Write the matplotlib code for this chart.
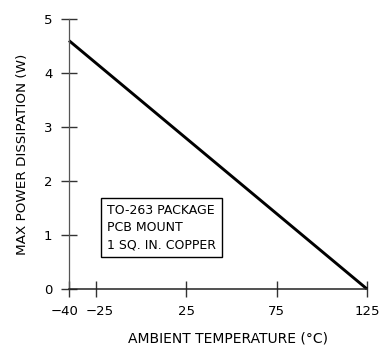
import matplotlib
matplotlib.use("Agg")
import matplotlib.pyplot as plt
from matplotlib.transforms import ScaledTranslation

# Data
temperature = [-40, 125]
max_power = [4.6, 0.0]
x_ticks = [-40, -25, 25, 75, 125]
y_ticks = [0, 1, 2, 3, 4, 5]
note_lines = ["TO-263 PACKAGE", "PCB MOUNT", "1 SQ. IN. COPPER"]

W, H = 379, 350
fig = plt.figure(figsize=(W / 100, H / 100), dpi=100)
plt.rcParams['font.family'] = ['DejaVu Sans']
ax = fig.add_axes([69 / W, 1 - 289 / H, (367 - 69) / W, (289 - 19) / H])

ax.plot(temperature, max_power, color='black', lw=2.1, solid_capstyle='butt', clip_on=False)

ax.set_xlim(-40, 125)
ax.set_ylim(0, 5)
ax.set_xticks(x_ticks)
ax.set_yticks(y_ticks)
ax.set_xticklabels([str(t).replace('-', '\u2212') for t in x_ticks])
ax.set_yticklabels([str(t) for t in y_ticks])

for s in ['top', 'right']:
    ax.spines[s].set_visible(False)
ax.spines['left'].set_color('#555555')
ax.spines['left'].set_linewidth(0.9)
ax.spines['bottom'].set_color('#222222')
ax.spines['bottom'].set_linewidth(1.1)

ax.tick_params(axis='both', direction='inout', width=1.0, colors='#333333',
               labelcolor='black', labelsize=9.5)
ax.tick_params(axis='y', length=12, pad=6)
ax.tick_params(axis='x', length=11, pad=6)

# nudge the crowded leftmost tick labels apart
xt = ax.get_xticklabels()
xt[0].set_transform(xt[0].get_transform() + ScaledTranslation(-4 / 100, 0, fig.dpi_scale_trans))
xt[1].set_transform(xt[1].get_transform() + ScaledTranslation(4 / 100, 0, fig.dpi_scale_trans))

ax.set_xlabel("AMBIENT TEMPERATURE (°C)", fontsize=10)
ax.set_ylabel("MAX POWER DISSIPATION (W)", fontsize=9.7)
ax.xaxis.set_label_coords((227.5 - 69) / 298, -(332 - 289) / 270)
ax.yaxis.set_label_coords(-(69 - 29) / 298, 0.5)

ax.text((107 - 69) / 298, (289 - 227.5) / 270, "\n".join(note_lines), transform=ax.transAxes,
        fontsize=9, va='center', ha='left', linespacing=1.42,
        bbox=dict(boxstyle='square,pad=0.5', facecolor='white', edgecolor='black', lw=1.0))

fig.savefig("out.png", dpi=100)
